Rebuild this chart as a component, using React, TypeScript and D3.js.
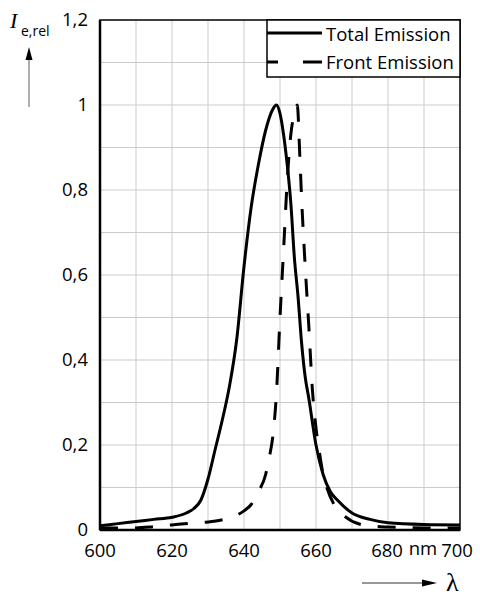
import * as d3 from "d3";

// wavelength grid (nm) and relative intensities
const totalNm = [600, 605, 610, 615, 620, 624, 626, 628, 630, 632, 634, 636, 638, 640, 642, 644, 646, 648, 649, 650, 651, 652, 653, 654, 655, 656, 657, 658, 660, 662, 664, 666, 670, 675, 680, 690, 700];
const totalVal = [0.01, 0.015, 0.02, 0.025, 0.03, 0.04, 0.05, 0.07, 0.12, 0.19, 0.26, 0.34, 0.45, 0.62, 0.76, 0.86, 0.94, 0.99, 1.0, 0.98, 0.93, 0.86, 0.77, 0.64, 0.55, 0.44, 0.36, 0.31, 0.2, 0.13, 0.09, 0.07, 0.04, 0.025, 0.017, 0.013, 0.012];

const frontNm = [600, 610, 615, 620, 625, 630, 635, 638, 640, 642, 644, 646, 647, 648, 649, 650, 651, 652, 653, 654, 654.8, 655.5, 656, 657, 658, 659, 660, 661, 662, 663, 665, 668, 672, 676, 680, 690, 700];
const frontVal = [0.005, 0.005, 0.008, 0.012, 0.016, 0.019, 0.026, 0.035, 0.045, 0.06, 0.09, 0.13, 0.17, 0.22, 0.32, 0.5, 0.66, 0.82, 0.93, 0.98, 1.0, 0.88, 0.78, 0.62, 0.48, 0.33, 0.24, 0.18, 0.13, 0.1, 0.06, 0.032, 0.014, 0.009, 0.007, 0.005, 0.005];

const xTicks = [600, 620, 640, 660, 680, 700];
const yTicks = [0, 0.2, 0.4, 0.6, 0.8, 1, 1.2];
const xGrid = [610, 620, 630, 640, 650, 660, 670, 680, 690];
const yGrid = [0.1, 0.2, 0.3, 0.4, 0.5, 0.6, 0.7, 0.8, 0.9, 1, 1.1];

const W = 480;
const H = 597;
const FONT = "'Open Sans', sans-serif";

export default function App() {
  const x = d3.scaleLinear().domain([600, 700]).range([100, 460]);
  const y = d3.scaleLinear().domain([0, 1.2]).range([530, 20]);

  const line = d3
    .line<[number, number]>()
    .x((d) => x(d[0]))
    .y((d) => y(d[1]))
    .curve(d3.curveMonotoneX);

  const total = line(totalNm.map((n, i) => [n, totalVal[i]]) as [number, number][]) ?? "";
  const front = line(frontNm.map((n, i) => [n, frontVal[i]]) as [number, number][]) ?? "";

  const fmt = (v: number) => String(v).replace(".", ",");

  return (
    <svg width={W} height={H} style={{ position: "absolute", left: 0, top: 0, background: "#fff" }} fontFamily={FONT}>
      {/* grid */}
      {xGrid.map((g) => (
        <line key={"gx" + g} x1={x(g)} x2={x(g)} y1={y(0)} y2={y(1.2)} stroke="#cbcbcb" strokeWidth={1} />
      ))}
      {yGrid.map((g) => (
        <line key={"gy" + g} x1={x(600)} x2={x(700)} y1={y(g)} y2={y(g)} stroke="#cbcbcb" strokeWidth={1} />
      ))}

      {/* curves */}
      <path d={total} fill="none" stroke="#000" strokeWidth={3} />
      <path d={front} fill="none" stroke="#000" strokeWidth={3} strokeDasharray="18,17" />

      {/* frame */}
      <rect x={x(600)} y={y(1.2)} width={x(700) - x(600)} height={y(0) - y(1.2)} fill="none" stroke="#000" strokeWidth={1.5} />
      <line x1={x(600)} x2={x(700)} y1={y(0)} y2={y(0)} stroke="#000" strokeWidth={2.5} />
      <line x1={x(600)} x2={x(600)} y1={y(0)} y2={y(1.2)} stroke="#000" strokeWidth={2.5} />

      {/* y tick labels */}
      {yTicks.map((t) => (
        <text key={"yt" + t} x={88} y={y(t)} dy="0.35em" textAnchor="end" fontSize={18.5} fill="#000">
          {fmt(t)}
        </text>
      ))}

      {/* x tick labels */}
      {xTicks.map((t) => (
        <text key={"xt" + t} x={x(t) + (t === 700 ? -3 : t === 680 ? -1 : 0)} y={557} textAnchor="middle" fontSize={18.5} fill="#000">
          {t}
        </text>
      ))}
      <text x={423} y={555} textAnchor="middle" fontSize={18.5} fill="#000">nm</text>

      {/* legend */}
      <rect x={267} y={20} width={193} height={57} fill="#fff" stroke="#000" strokeWidth={1.5} />
      <line x1={267} x2={322} y1={33} y2={33} stroke="#000" strokeWidth={3} />
      <text x={326} y={35} dy="0.35em" fontSize={18.5} fill="#000">Total Emission</text>
      <line x1={267} x2={322} y1={62} y2={62} stroke="#000" strokeWidth={3} strokeDasharray="11,25,19" />
      <text x={326} y={63} dy="0.35em" fontSize={18.5} fill="#000">Front Emission</text>

      {/* y axis quantity label */}
      <text x={10} y={28} fontFamily="'Liberation Serif', serif" fontStyle="italic" fontSize={22} fill="#000">I</text>
      <text x={21} y={36} fontSize={14} fill="#000">e,rel</text>
      <line x1={29} x2={29} y1={107} y2={58} stroke="#777" strokeWidth={1.2} />
      <path d="M29,47 L25.5,60 L32.5,60 Z" fill="#000" />

      {/* x axis quantity label */}
      <line x1={362} x2={424} y1={583} y2={583} stroke="#333" strokeWidth={1.2} />
      <path d="M437,583 L422,579.5 L422,586.5 Z" fill="#000" />
      <text x={446} y={591} fontFamily="'Liberation Serif', serif" fontSize={26} fill="#000">λ</text>
    </svg>
  );
}
